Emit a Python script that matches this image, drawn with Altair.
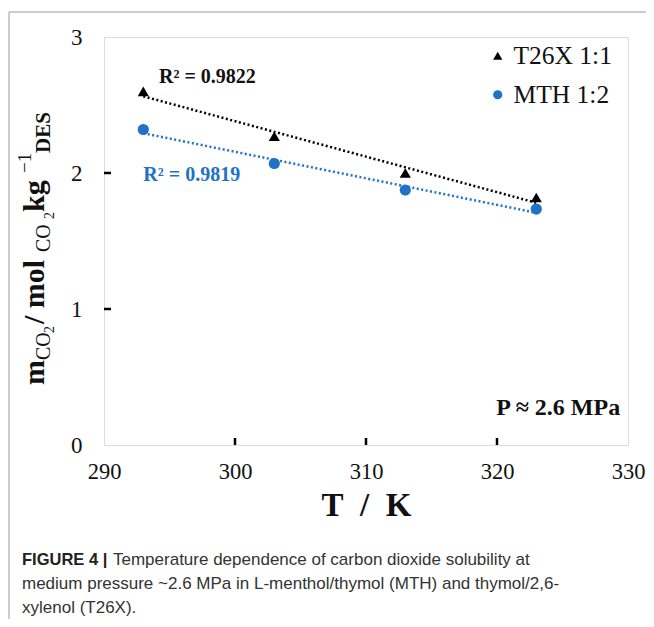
import altair as alt
import pandas as pd

# ---- data ----
temps = [293, 303, 313, 323]
t26x = [2.60, 2.27, 2.00, 1.82]
mth = [2.32, 2.07, 1.875, 1.735]
series_names = ["T26X 1:1", "MTH 1:2"]
series_colors = ["#000000", "#1f72c6"]
series_shapes = ["triangle-up", "circle"]
x_ticks = [290, 300, 310, 320, 330]
y_ticks = [0, 1, 2, 3]
x_inner_ticks = [300, 310, 320]
y_inner_ticks = [1, 2]

r2_labels = ["R² = 0.9822", "R² = 0.9819"]
caption_bold = "FIGURE 4 |"
caption_lines = [
    "Temperature dependence of carbon dioxide solubility at",
    "medium pressure ~2.6 MPa in L-menthol/thymol (MTH) and thymol/2,6-",
    "xylenol (T26X).",
]

SERIF = "Liberation Serif"
SANS = "Liberation Sans"
BLUE = series_colors[1]

df = pd.DataFrame({
    "T": temps * 2,
    "m": t26x + mth,
    "series": [series_names[0]] * 4 + [series_names[1]] * 4,
})

xs = alt.Scale(domain=[290, 330], nice=False)
ys = alt.Scale(domain=[0, 3], nice=False)

leg = alt.Legend(
    orient="none", legendX=381, legendY=6, title=None,
    labelFont=SERIF, labelFontSize=25.5, labelColor="#111", labelLimit=0,
    symbolSize=85, symbolStrokeWidth=0, rowPadding=12, labelOffset=3,
)

base = alt.Chart(df)

points = base.mark_point(filled=True, opacity=1, size=125).encode(
    x=alt.X("T:Q", scale=xs, axis=alt.Axis(
        values=x_ticks, title="T\u2002/\u2002K", grid=False, domain=False, ticks=False, format="d",
        labelFont=SERIF, labelFontSize=22.5, labelColor="#111", labelPadding=15,
        titleFont=SERIF, titleFontSize=33, titleFontWeight="bold", titleColor="#111",
        titlePadding=7, labelFlush=False)),
    y=alt.Y("m:Q", scale=ys, axis=alt.Axis(
        values=y_ticks, title=None, grid=False, domain=False, ticks=False, format="d",
        labelFont=SERIF, labelFontSize=23, labelColor="#111", labelPadding=22,
        labelFlush=False)),
    color=alt.Color("series:N", scale=alt.Scale(domain=series_names, range=series_colors), legend=leg),
    shape=alt.Shape("series:N", scale=alt.Scale(domain=series_names, range=series_shapes), legend=leg),
)

def trend(name, color):
    return base.transform_filter(alt.datum.series == name).transform_regression(
        "T", "m", extent=[293, 323]
    ).mark_line(color=color, strokeDash=[2, 2.5], strokeWidth=2.5).encode(
        x=alt.X("T:Q", scale=xs), y=alt.Y("m:Q", scale=ys)
    )

trend1 = trend(series_names[0], "#000000")
trend2 = trend(series_names[1], BLUE)

ann = pd.DataFrame({
    "T": [294.2, 293.0],
    "m": [2.706, 1.985],
    "txt": r2_labels,
    "col": ["#111111", BLUE],
})
r2 = alt.Chart(ann).mark_text(font=SERIF, fontSize=20, fontWeight="bold", align="left", baseline="middle").encode(
    x=alt.X("T:Q", scale=xs), y=alt.Y("m:Q", scale=ys), text="txt:N",
    color=alt.Color("col:N", scale=None),
)

p_ann = alt.Chart(pd.DataFrame({"T": [329.4], "m": [0.27], "txt": ["P ≈ 2.6 MPa"]})).mark_text(
    font=SERIF, fontSize=24, fontWeight="bold", align="right", baseline="middle", color="#111"
).encode(x=alt.X("T:Q", scale=xs), y=alt.Y("m:Q", scale=ys), text="txt:N")

# inward ticks
xt = alt.Chart(pd.DataFrame({"T": x_inner_ticks})).mark_rule(color="black", strokeWidth=2.5).encode(
    x=alt.X("T:Q", scale=xs), y=alt.value(408), y2=alt.value(401))
yt = alt.Chart(pd.DataFrame({"m": y_inner_ticks})).mark_rule(color="black", strokeWidth=2.5).encode(
    y=alt.Y("m:Q", scale=ys), x=alt.value(0), x2=alt.value(7))

# y-axis title pieces (rotated)
BX = -60
ypieces = [
    # text, size, weight, dx shift, start y (plot coords)
    ("m", 30, "bold", 0, 348),
    ("CO", 20, "normal", 6, 323),
    ("2", 14, "normal", 10, 296),
    (" / mol", 30, "bold", 0, 287),
    (" CO", 20, "normal", 6, 215),
    ("2", 14, "normal", 10, 182),
    (" kg", 30, "bold", 0, 175),
    ("−1", 19, "normal", -13, 136),
    ("DES", 21, "bold", 6, 116),
]
ytitle_layers = []
for txt, fs, fw, sh, y0 in ypieces:
    ytitle_layers.append(
        alt.Chart(pd.DataFrame({"t": [txt]})).mark_text(
            font=SERIF, fontSize=fs, fontWeight=fw, angle=270, align="left",
            baseline="alphabetic", color="#111"
        ).encode(text="t:N", x=alt.value(BX + sh), y=alt.value(y0))
    )

# gray frame lines
gv = alt.Chart(pd.DataFrame({"a": [0]})).mark_rule(color="#9a9a9a", strokeWidth=1).encode(
    x=alt.value(-95), y=alt.value(-25), y2=alt.value(600))
gh = alt.Chart(pd.DataFrame({"a": [0]})).mark_rule(color="#9a9a9a", strokeWidth=1).encode(
    x=alt.value(-95), x2=alt.value(560), y=alt.value(-25))

# caption
cap_bold = alt.Chart(pd.DataFrame({"t": [caption_bold]})).mark_text(
    font=SANS, fontSize=16.5, fontWeight="bold", align="left", baseline="middle", color="#222"
).encode(text="t:N", x=alt.value(-82), y=alt.value(523))
cap_layers = []
for i, line in enumerate(caption_lines):
    cap_layers.append(alt.Chart(pd.DataFrame({"t": [line]})).mark_text(
        font=SANS, fontSize=17, align="left", baseline="middle", color="#333"
    ).encode(text="t:N", x=alt.value(9 if i == 0 else -82), y=alt.value(523 + 24 * i)))

chart = alt.layer(
    trend1, trend2, points, r2, p_ann, xt, yt, gv, gh, cap_bold, *cap_layers, *ytitle_layers
).properties(
    width=524, height=408,
    padding={"left": 96, "top": 29, "right": 18, "bottom": 174},
    autosize=alt.AutoSizeParams(type="none"),
).configure_view(stroke="black", strokeWidth=3).configure(background="white")

chart.save("out.html", embed_options={"renderer": "svg", "actions": False})
